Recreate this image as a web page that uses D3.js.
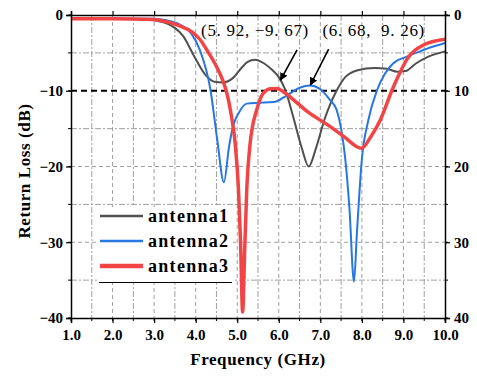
<!DOCTYPE html>
<html>
<head>
<meta charset="utf-8">
<script src="https://cdnjs.cloudflare.com/ajax/libs/d3/7.8.5/d3.min.js"></script>
<style>
  body { margin: 0; background: #fff; }
  svg text { font-family: "Liberation Serif", "Times New Roman", serif; }
</style>
</head>
<body>
<svg id="chart" width="477" height="377"></svg>
<script>
// frequency (GHz) / return loss (dB)
var antenna1 = [[1.0,-0.5],[2.0,-0.5],[2.8,-0.6],[3.1,-0.8],[3.3,-1.1],[3.5,-1.7],[3.7,-2.8],[3.95,-5.3],
  [4.25,-8.0],[4.45,-8.8],[4.66,-8.9],[4.9,-8.3],[5.1,-7.0],[5.25,-6.2],[5.43,-5.9],[5.65,-6.4],[5.85,-7.3],
  [6.0,-8.2],[6.15,-9.8],[6.35,-13.5],[6.55,-17.5],[6.72,-20],[6.9,-17.5],[7.1,-13.8],[7.39,-10],[7.6,-8.2],
  [7.9,-7.3],[8.3,-7.0],[8.6,-7.1],[8.85,-7.5],[9.05,-7.4],[9.3,-6.4],[9.6,-5.5],[10,-4.8]];
var antenna2 = [[1.0,-0.5],[2.0,-0.5],[3.0,-0.5],[3.3,-0.7],[3.6,-1.2],[3.9,-2.5],[4.1,-4.6],[4.36,-10],
  [4.52,-16.5],[4.68,-22.1],[4.8,-17.5],[4.9,-14.7],[5.05,-12.8],[5.23,-11.7],[5.5,-11.6],[5.88,-11.5],
  [6.2,-10.6],[6.5,-9.6],[6.76,-9.3],[7.0,-9.8],[7.23,-11.2],[7.39,-12.5],[7.5,-15],[7.6,-19],[7.7,-25.5],
  [7.81,-35.2],[7.88,-28.8],[8.0,-19],[8.15,-14],[8.36,-10],[8.55,-7.8],[8.75,-6.4],[9.08,-5.5],[9.4,-4.8],
  [9.7,-4.2],[10,-3.7]];
var antenna3 = [[1.0,-0.5],[2.0,-0.5],[3.0,-0.6],[3.3,-0.9],[3.6,-1.4],[3.9,-2.2],[4.1,-3.2],[4.3,-4.9],
  [4.5,-6.8],[4.65,-8.6],[4.75,-10.3],[4.85,-13],[4.95,-16.9],[5.03,-23],[5.08,-30],[5.13,-39.2],[5.18,-31],
  [5.23,-23],[5.31,-17],[5.47,-12.5],[5.63,-10.3],[5.8,-9.75],[5.95,-9.7],[6.1,-10.1],[6.27,-10.8],[6.7,-12.8],
  [7.23,-14.7],[7.6,-16.2],[7.85,-17.3],[7.99,-17.6],[8.2,-16.2],[8.44,-13.9],[8.72,-10],[8.9,-7.8],
  [9.08,-5.9],[9.47,-4.0],[10,-3.2]];
var seriesNames = ['antenna1', 'antenna2', 'antenna3'];
var seriesColors = ['#505050', '#2777e0', '#f24444'];
var seriesWidths = [2, 2, 3.5];
var xTicks = [1, 2, 3, 4, 5, 6, 7, 8, 9, 10];
var yTicks = [0, -10, -20, -30, -40];
var refLevel = -10;
// annotation: label, arrow tip, arrow tail (data units)
var notes = [
  {label: '(5. 92, \u22129. 67)', tip: [6.04, -8.6], tail: [6.44, -4.6], at: [4.13, -2.75]},
  {label: '(6. 68,  9. 26)', tip: [6.76, -9.24], tail: [7.2, -4.5], at: [7.05, -2.75]}
];

var svg = d3.select('#chart');
var x = d3.scaleLinear().domain([1, 10]).range([71, 445]);
var y = d3.scaleLinear().domain([0, -40]).range([15, 318]);

var grid = svg.append('g');
d3.range(1.5, 10, 0.5).forEach(function(f) {
  grid.append('line').attr('x1', x(f)).attr('x2', x(f)).attr('y1', y(0)).attr('y2', y(-40))
    .attr('stroke', '#a0a0a0').attr('stroke-width', 1)
    .attr('stroke-dasharray', f % 1 === 0 ? '4,3' : '6,2,2,2');
});
d3.range(-5, -40, -5).forEach(function(v) {
  if (v === refLevel) return;
  grid.append('line').attr('x1', x(1)).attr('x2', x(10)).attr('y1', y(v)).attr('y2', y(v))
    .attr('stroke', '#a0a0a0').attr('stroke-width', 1)
    .attr('stroke-dasharray', v % 10 === 0 ? '4,3' : '6,2,2,2');
});

svg.append('line').attr('x1', x(1)).attr('x2', x(10)).attr('y1', y(refLevel)).attr('y2', y(refLevel))
  .attr('stroke', '#000').attr('stroke-width', 2).attr('stroke-dasharray', '6,4');

// legend box sits over the grid, under the curves
var leg = svg.append('g');
leg.append('rect').attr('x', 97).attr('y', 207).attr('width', 136).attr('height', 75).attr('fill', '#fff');

var line = d3.line().x(function(d) { return x(d[0]); }).y(function(d) { return y(d[1]); })
  .curve(d3.curveMonotoneX);
[antenna1, antenna2, antenna3].forEach(function(s, i) {
  svg.append('path').datum(s).attr('d', line).attr('fill', 'none')
    .attr('stroke', seriesColors[i]).attr('stroke-width', seriesWidths[i])
    .attr('stroke-linejoin', 'round');
});

// axes
var minorX = d3.range(1, 10.01, 0.5), minorY = d3.range(0, -40.01, -5);
var axB = d3.axisBottom(x).tickValues(xTicks).tickFormat(d3.format('.1f')).tickSize(5).tickPadding(6);
var axL = d3.axisLeft(y).tickValues(yTicks).tickFormat(d3.format('d')).tickSize(5).tickPadding(3);
var axR = d3.axisRight(y).tickValues(yTicks).tickFormat(function(d) { return Math.abs(d); }).tickSize(5).tickPadding(4);
var axT = d3.axisTop(x).tickValues(xTicks).tickFormat('').tickSize(4);

function style(g) {
  g.select('.domain').attr('stroke-width', 1.5);
  g.selectAll('text').attr('font-size', 15).attr('font-weight', 'bold').attr('fill', '#000');
  g.selectAll('.tick line').attr('stroke-width', 1.2);
}
svg.append('g').attr('transform', 'translate(0,' + y(-40) + ')').call(axB).call(style);
svg.append('g').attr('transform', 'translate(' + x(1) + ',0)').call(axL).call(style);
svg.append('g').attr('transform', 'translate(' + x(10) + ',0)').call(axR).call(style);
svg.append('g').attr('transform', 'translate(0,' + y(0) + ')').call(axT).call(style);

svg.append('g').selectAll('line').data(minorX).join('line')
  .attr('x1', function(d) { return x(d); }).attr('x2', function(d) { return x(d); })
  .attr('y1', y(-40)).attr('y2', y(-40) + 3).attr('stroke', '#000');
svg.append('g').selectAll('line').data(minorY).join('line')
  .attr('x1', x(1) - 3).attr('x2', x(1))
  .attr('y1', function(d) { return y(d); }).attr('y2', function(d) { return y(d); }).attr('stroke', '#000');
svg.append('g').selectAll('line').data(minorY).join('line')
  .attr('x1', x(10)).attr('x2', x(10) + 3)
  .attr('y1', function(d) { return y(d); }).attr('y2', function(d) { return y(d); }).attr('stroke', '#000');

svg.append('text').attr('x', 258).attr('y', 365).attr('text-anchor', 'middle')
  .attr('font-size', 17).attr('font-weight', 'bold').attr('letter-spacing', 0.6).text('Frequency (GHz)');
svg.append('text').attr('transform', 'translate(30,171) rotate(-90)').attr('text-anchor', 'middle')
  .attr('font-size', 17).attr('font-weight', 'bold').attr('letter-spacing', 0.6).text('Return Loss (dB)');

seriesNames.forEach(function(n, i) {
  var ly = 216 + i * 25;
  leg.append('line').attr('x1', 100).attr('x2', 143).attr('y1', ly).attr('y2', ly)
    .attr('stroke', seriesColors[i]).attr('stroke-width', seriesWidths[i] + (i === 2 ? 1 : 0.5));
  leg.append('text').attr('x', 148).attr('y', ly + 6).attr('font-size', 18).attr('font-weight', 'bold')
    .attr('letter-spacing', 1.3).text(n);
});
leg.append('line').attr('x1', 99).attr('x2', 232).attr('y1', 282.5).attr('y2', 282.5).attr('stroke', '#000').attr('stroke-width', 1);

// annotations
svg.append('defs').append('marker').attr('id', 'ah').attr('viewBox', '0 0 10 10').attr('refX', 9).attr('refY', 5)
  .attr('markerWidth', 5).attr('markerHeight', 5).attr('orient', 'auto')
  .append('path').attr('d', 'M0,0L10,5L0,10Z').attr('fill', '#000');
notes.forEach(function(n) {
  svg.append('line').attr('x1', x(n.tail[0])).attr('y1', y(n.tail[1]))
    .attr('x2', x(n.tip[0])).attr('y2', y(n.tip[1]))
    .attr('stroke', '#000').attr('stroke-width', 1.6).attr('marker-end', 'url(#ah)');
  svg.append('text').attr('x', x(n.at[0])).attr('y', y(n.at[1])).attr('font-size', 17)
    .attr('letter-spacing', 0.7).style('white-space', 'pre').text(n.label);
});
</script>
</body>
</html>
